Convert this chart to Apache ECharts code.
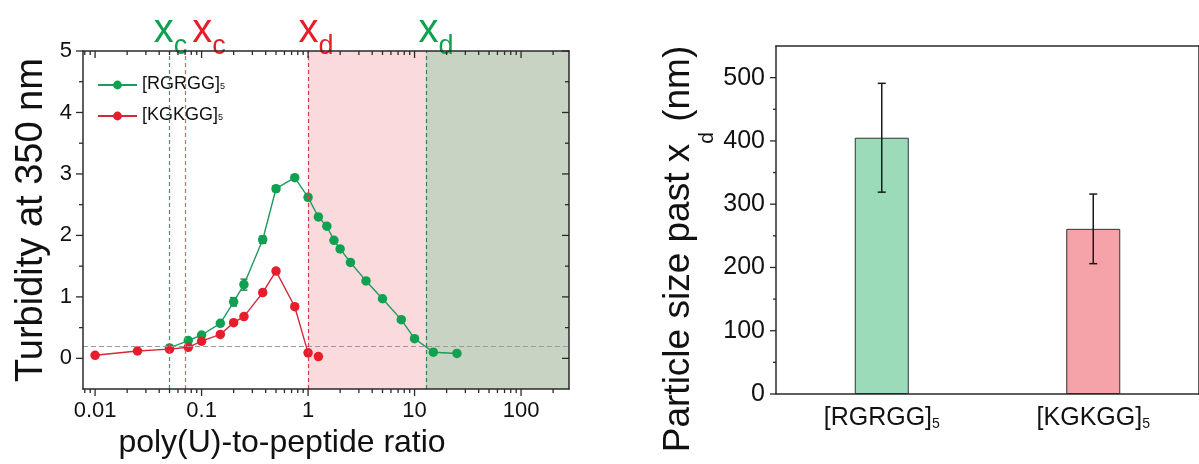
<!DOCTYPE html>
<html>
<head>
<meta charset="utf-8">
<script src="https://cdn.jsdelivr.net/npm/echarts@6/dist/echarts.min.js"></script>
<style>
  html, body { margin: 0; padding: 0; background: #ffffff; }
  #chart { width: 1199px; height: 464px; }
</style>
</head>
<body>
<div id="chart"></div>
<script>
// ---- turbidity titration: poly(U) added to each peptide ----
const rgrRatio = [0.05, 0.075, 0.1, 0.15, 0.2, 0.25, 0.375, 0.5, 0.75, 1, 1.25, 1.5, 1.75, 2, 2.5, 3.5, 5, 7.5, 10, 15, 25];
const rgrTurb  = [0.17, 0.29, 0.38, 0.57, 0.92, 1.20, 1.93, 2.76, 2.94, 2.62, 2.30, 2.15, 1.92, 1.78, 1.56, 1.26, 0.97, 0.63, 0.32, 0.10, 0.08];
const rgrErr   = [0.02, 0.03, 0.03, 0.03, 0.07, 0.09, 0.06, 0.05, 0.03, 0.04, 0.02, 0.02, 0.02, 0.02, 0.02, 0.02, 0.02, 0.02, 0.02, 0.02, 0.02];

const kgkRatio = [0.01, 0.025, 0.05, 0.075, 0.1, 0.15, 0.2, 0.25, 0.375, 0.5, 0.75, 1];
const kgkTurb  = [0.05, 0.12, 0.15, 0.18, 0.28, 0.39, 0.58, 0.68, 1.07, 1.42, 0.84, 0.09];
const kgkErr   = [0.02, 0.02, 0.02, 0.02, 0.02, 0.03, 0.03, 0.03, 0.04, 0.04, 0.04, 0.03];
// last KGKGG reading, not joined to the curve
const kgkTailRatio = [1.25];
const kgkTailTurb  = [0.03];

const turbBaseline = 0.19;
const xcRGR = 0.05, xcKGK = 0.075, xdKGK = 1, xdRGR = 12.8;

const ratioMin = 0.0077, ratioMax = 282;
const turbMin = -0.5, turbMax = 5;
const turbMajor = [0, 1, 2, 3, 4, 5];
const turbMinor = [0.5, 1.5, 2.5, 3.5, 4.5];

// ---- particle size past x_d ----
const peptides = ['[RGRGG]', '[KGKGG]'];
const sizeMean = [405, 261];
const sizeErr  = [86, 55];
const sizeMax = 550;
const sizeMajor = [0, 100, 200, 300, 400, 500];
const sizeMinor = [50, 150, 250, 350, 450];

const GREEN = '#0ea14f', GREEN_LINE = '#1f9a5e';
const RED = '#e81d2b', RED_LINE = '#d4283a';
const INK = '#2a2a2a';
const FONT = '"Liberation Sans", Arial, Helvetica, sans-serif';
const DOT = 9.5;

// decade and in-between ticks of the log axis
const ratioDecades = [], ratioMinorTicks = [];
for (let k = -3; k <= 3; k++) {
  for (let m = 1; m <= 9; m++) {
    const v = m * Math.pow(10, k);
    if (v < ratioMin || v > ratioMax) continue;
    (m === 1 ? ratioDecades : ratioMinorTicks).push(v);
  }
}

function fmtDecade(v) {
  const k = Math.round(Math.log10(v));
  if (Math.abs(Math.log10(v) - k) > 1e-6) return '';
  return k < 0 ? Math.pow(10, k).toFixed(-k) : String(Math.pow(10, k));
}

// tick marks drawn along a grid edge; side: bottom/top/left/right, len > 0 points outward
function tickSeries(xi, yi, items, side, len) {
  return {
    type: 'custom', xAxisIndex: xi, yAxisIndex: yi, silent: true, clip: false, z: 8,
    data: items,
    renderItem(params, api) {
      const cs = params.coordSys;
      const p = api.coord([api.value(0), api.value(1)]);
      let x1, y1, x2, y2;
      if (side === 'bottom') { x1 = x2 = p[0]; y1 = cs.y + cs.height; y2 = y1 + len; }
      else if (side === 'top') { x1 = x2 = p[0]; y1 = cs.y; y2 = y1 - len; }
      else if (side === 'left') { y1 = y2 = p[1]; x1 = cs.x; x2 = x1 - len; }
      else { y1 = y2 = p[1]; x1 = cs.x + cs.width; x2 = x1 + len; }
      return { type: 'line', shape: { x1, y1, x2, y2 }, style: { stroke: INK, lineWidth: 1.3 } };
    }
  };
}

// vertical error bars with caps
function errorSeries(xi, yi, items, color, cap, width, z) {
  return {
    type: 'custom', xAxisIndex: xi, yAxisIndex: yi, silent: true, z: z,
    data: items,
    renderItem(params, api) {
      const x = api.value(0), y = api.value(1), e = api.value(2);
      const hi = api.coord([x, y + e]), lo = api.coord([x, y - e]);
      const st = { stroke: color, lineWidth: width };
      return { type: 'group', children: [
        { type: 'line', shape: { x1: hi[0], y1: hi[1], x2: lo[0], y2: lo[1] }, style: st },
        { type: 'line', shape: { x1: hi[0] - cap, y1: hi[1], x2: hi[0] + cap, y2: hi[1] }, style: st },
        { type: 'line', shape: { x1: lo[0] - cap, y1: lo[1], x2: lo[0] + cap, y2: lo[1] }, style: st }
      ] };
    }
  };
}

const shadeColors = ['#fadadc', '#c9d3c3'];
const shadeRegions = [[xdKGK, xdRGR, 0], [xdRGR, ratioMax, 1]];

const markRich = (color) => ({
  m: { fontSize: 40, lineHeight: 44, verticalAlign: 'top', color: color },
  s: { fontSize: 27, lineHeight: 27, verticalAlign: 'top', padding: [22, 0, 0, 0], color: color }
});
function xMark(value, sub, color, lineColor, dx) {
  return {
    xAxis: value,
    lineStyle: { color: lineColor, type: [4, 3], width: 1.2, opacity: 1 },
    label: { show: true, position: 'end', distance: 0, offset: [dx, 4],
      formatter: '{m|x}{s|' + sub + '}', rich: markRich(color) }
  };
}

const frameLine = { onZero: false, lineStyle: { color: INK, width: 1.5 } };

const option = {
  animation: false,
  backgroundColor: '#ffffff',
  textStyle: { fontFamily: FONT, color: '#111' },
  legend: {
    data: ['[RGRGG]', '[KGKGG]'],
    orient: 'vertical', left: 97, top: 75, padding: 0,
    itemWidth: 39, itemHeight: 11, itemGap: 13,
    selectedMode: false,
    formatter: (n) => '{m|' + n + '}{s|5}',
    textStyle: {
      rich: {
        m: { fontSize: 18, lineHeight: 20, verticalAlign: 'top', color: '#111' },
        s: { fontSize: 9, lineHeight: 10, verticalAlign: 'top', padding: [7, 0, 0, 0], color: '#111' }
      }
    }
  },
  grid: [
    { left: 83, right: 630, top: 51, bottom: 74 },
    { left: 776, right: -8, top: 46, bottom: 70 }
  ],
  xAxis: [
    { type: 'log', logBase: 10, gridIndex: 0, min: ratioMin, max: ratioMax, position: 'bottom', z: 6,
      axisLine: frameLine, axisTick: { show: false }, splitLine: { show: false },
      axisLabel: { fontSize: 22, color: '#111', margin: 11, formatter: fmtDecade, showMinLabel: false, showMaxLabel: false },
      name: 'poly(U)-to-peptide ratio', nameLocation: 'middle', nameGap: 37,
      nameTextStyle: { fontSize: 32, color: '#111', padding: [0, 88, 0, 0] } },
    { type: 'log', logBase: 10, gridIndex: 0, min: ratioMin, max: ratioMax, position: 'top', z: 6,
      axisLine: frameLine, axisTick: { show: false },
      axisLabel: { show: false }, splitLine: { show: false } },
    { type: 'category', gridIndex: 1, data: peptides, position: 'bottom', z: 6,
      axisLine: frameLine,
      axisTick: { alignWithLabel: true, length: 6, lineStyle: { color: INK, width: 1.3 } },
      axisLabel: { fontSize: 25, color: '#111', margin: 12, interval: 0, hideOverlap: false,
        formatter: (v) => '{m|' + v + '}{s|5}',
        rich: {
          m: { fontSize: 25, lineHeight: 28, verticalAlign: 'top', color: '#111' },
          s: { fontSize: 14, lineHeight: 14, verticalAlign: 'top', padding: [11, 0, 0, 0], color: '#111' }
        } } },
    { type: 'category', gridIndex: 1, data: peptides, position: 'bottom',
      axisLine: { show: false, onZero: false }, axisLabel: { show: false },
      axisTick: { length: 3, lineStyle: { color: INK, width: 1.3 } } },
    { type: 'category', gridIndex: 1, data: peptides, position: 'top', z: 6,
      axisLine: frameLine, axisLabel: { show: false },
      axisTick: { alignWithLabel: true, inside: true, length: 6, lineStyle: { color: INK, width: 1.3 } } },
    { type: 'category', gridIndex: 1, data: peptides, position: 'top',
      axisLine: { show: false, onZero: false }, axisLabel: { show: false },
      axisTick: { inside: true, length: 3, lineStyle: { color: INK, width: 1.3 } } }
  ],
  yAxis: [
    { type: 'value', gridIndex: 0, min: turbMin, max: turbMax, interval: 0.5, position: 'left', z: 6,
      axisLine: { show: true, onZero: false, lineStyle: { color: INK, width: 1.5 } }, axisTick: { show: false }, splitLine: { show: false },
      axisLabel: { fontSize: 22, color: '#111', margin: 11,
        formatter: (v) => (Math.abs(v - Math.round(v)) < 1e-9 ? String(Math.round(v)) : '') },
      name: 'Turbidity at 350 nm', nameLocation: 'middle', nameGap: 32,
      nameTextStyle: { fontSize: 38, color: '#111' } },
    { type: 'value', gridIndex: 0, min: turbMin, max: turbMax, interval: 0.5, position: 'right', z: 6,
      axisLine: { show: true, onZero: false, lineStyle: { color: INK, width: 1.5 } }, axisTick: { show: false },
      axisLabel: { show: false }, splitLine: { show: false } },
    { type: 'value', gridIndex: 1, min: 0, max: sizeMax, interval: 50, position: 'left', z: 6,
      axisLine: { show: true, onZero: false, lineStyle: { color: INK, width: 1.5 } }, axisTick: { show: false }, splitLine: { show: false },
      axisLabel: { fontSize: 25, color: '#111', margin: 11,
        formatter: (v) => (v % 100 === 0 ? String(v) : '') },
      name: '{m|Particle size past x}{s|d}{m| (nm)}', nameLocation: 'middle', nameGap: 74,
      nameTextStyle: {
        color: '#111', padding: [0, 58, 0, 0],
        rich: {
          m: { fontSize: 37, lineHeight: 42, verticalAlign: 'top', color: '#111' },
          s: { fontSize: 21, lineHeight: 21, verticalAlign: 'top', padding: [37, 0, 0, 0], color: '#111' }
        }
      } },
    { type: 'value', gridIndex: 1, min: 0, max: sizeMax, interval: 50, position: 'right',
      axisLine: { show: true, onZero: false, lineStyle: { color: INK, width: 1.5 } }, axisTick: { show: false },
      axisLabel: { show: false }, splitLine: { show: false } }
  ],
  series: [
    // shaded phase regions past x_d
    { type: 'custom', xAxisIndex: 0, yAxisIndex: 0, silent: true, z: 1,
      data: shadeRegions,
      renderItem(params, api) {
        const cs = params.coordSys;
        const a = api.coord([api.value(0), 0]), b = api.coord([api.value(1), 0]);
        return { type: 'rect', shape: { x: a[0], y: cs.y, width: b[0] - a[0], height: cs.height },
          style: { fill: shadeColors[api.value(2)] } };
      } },
    errorSeries(0, 0, rgrRatio.map((x, i) => [x, rgrTurb[i], rgrErr[i]]), '#1c5e3a', 3.5, 1.2, 3),
    errorSeries(0, 0, kgkRatio.map((x, i) => [x, kgkTurb[i], kgkErr[i]]), '#7a1a20', 3.5, 1.2, 3),
    { name: '[RGRGG]', type: 'line', xAxisIndex: 0, yAxisIndex: 0, z: 4,
      data: rgrRatio.map((x, i) => [x, rgrTurb[i]]),
      symbol: 'circle', symbolSize: DOT,
      itemStyle: { color: GREEN }, lineStyle: { color: GREEN_LINE, width: 1.4 },
      markLine: {
        silent: true, symbol: ['none', 'none'], animation: false,
        data: [
          { yAxis: turbBaseline, label: { show: false }, lineStyle: { color: '#9a9a9a', type: [5, 3], width: 1 } },
          xMark(xcRGR, 'c', GREEN, '#22a27a', 1),
          xMark(xdRGR, 'd', GREEN, '#3a7f5c', 10)
        ]
      } },
    { name: '[KGKGG]', type: 'line', xAxisIndex: 0, yAxisIndex: 0, z: 4,
      data: kgkRatio.map((x, i) => [x, kgkTurb[i]]),
      symbol: 'circle', symbolSize: DOT,
      itemStyle: { color: RED }, lineStyle: { color: RED_LINE, width: 1.4 },
      markLine: {
        silent: true, symbol: ['none', 'none'], animation: false,
        data: [
          xMark(xcKGK, 'c', RED, '#ea5a64', 24),
          xMark(xdKGK, 'd', RED, '#d83a46', 8)
        ]
      } },
    { name: '[KGKGG]', type: 'scatter', xAxisIndex: 0, yAxisIndex: 0, z: 4,
      data: kgkTailRatio.map((x, i) => [x, kgkTailTurb[i]]),
      symbol: 'circle', symbolSize: DOT, itemStyle: { color: RED, opacity: 1 } },
    tickSeries(0, 0, ratioDecades.map((v) => [v, 0]), 'bottom', 7),
    tickSeries(0, 0, ratioMinorTicks.map((v) => [v, 0]), 'bottom', 4),
    tickSeries(0, 0, ratioDecades.map((v) => [v, 0]), 'top', -7),
    tickSeries(0, 0, ratioMinorTicks.map((v) => [v, 0]), 'top', -4),
    tickSeries(0, 0, turbMajor.map((v) => [1, v]), 'left', 7),
    tickSeries(0, 0, turbMinor.map((v) => [1, v]), 'left', 4),
    tickSeries(0, 0, turbMajor.map((v) => [1, v]), 'right', -7),
    tickSeries(0, 0, turbMinor.map((v) => [1, v]), 'right', -4),

    // particle size bars
    { type: 'bar', xAxisIndex: 2, yAxisIndex: 2, barWidth: 54, z: 2,
      data: sizeMean.map((v, i) => ({ value: v,
        itemStyle: { color: ['#9bdbba', '#f5a2a8'][i], borderColor: '#333', borderWidth: 1 } })) },
    errorSeries(2, 2, sizeMean.map((v, i) => [i, v, sizeErr[i]]), '#1a1a1a', 4, 1.5, 5),
    tickSeries(2, 2, sizeMajor.map((v) => [0, v]), 'left', 6),
    tickSeries(2, 2, sizeMinor.map((v) => [0, v]), 'left', 3)
  ]
};

const chart = echarts.init(document.getElementById('chart'), null, { renderer: 'canvas' });
chart.setOption(option);
</script>
</body>
</html>
